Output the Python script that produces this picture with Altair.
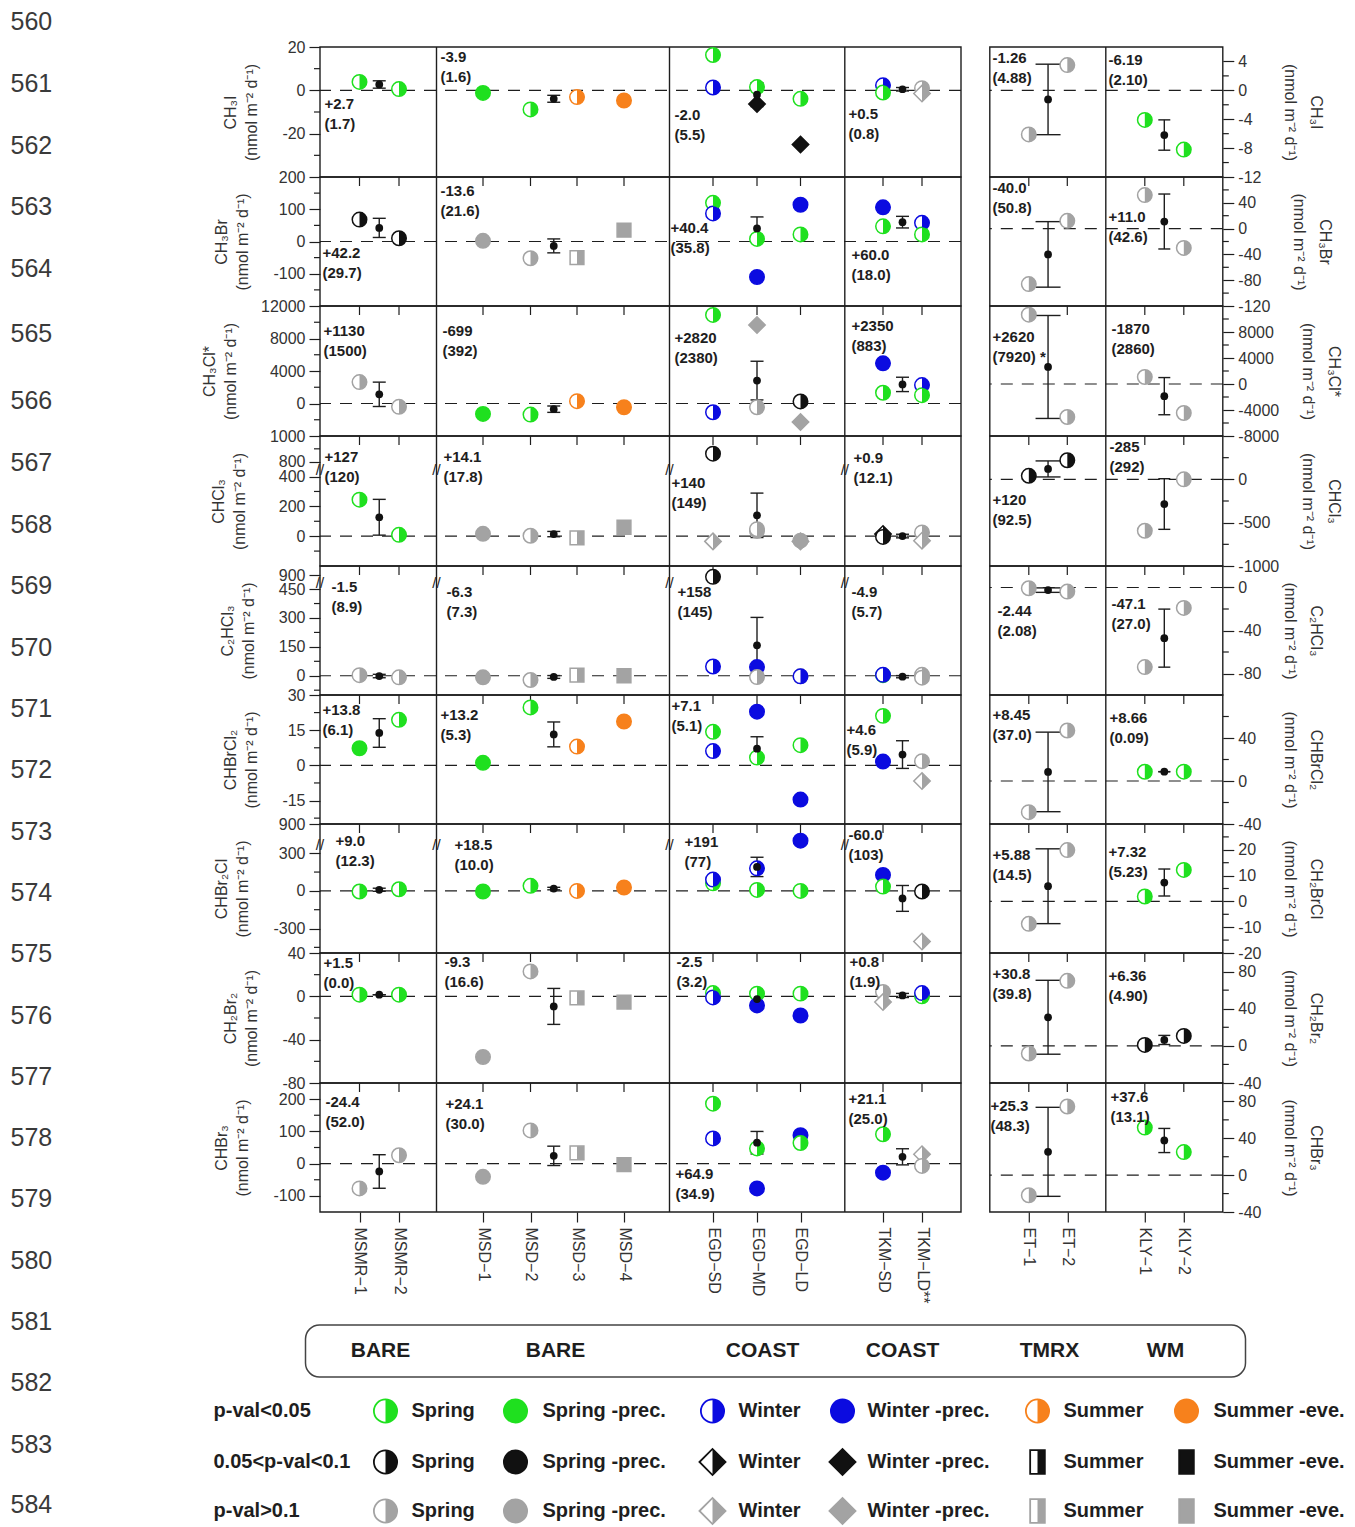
import json
import altair as alt
import pandas as pd

FONT = "Liberation Sans"
INK = "#1e1e1e"
LABC = "#333333"
UNIT = "(nmol m⁻² d⁻¹)"

LEFT_NAMES = ["CH₃I", "CH₃Br", "CH₃Cl*", "CHCl₃", "C₂HCl₃", "CHBrCl₂", "CHBr₂Cl", "CH₂Br₂", "CHBr₃"]
RIGHT_NAMES = ["CH₃I", "CH₃Br", "CH₃Cl*", "CHCl₃", "C₂HCl₃", "CHBrCl₂", "CH₂BrCl", "CH₂Br₂", "CHBr₃"]

# ---------------- sites / panels ----------------
LEFT_SITES = ["MSMR-1", "MSMR-2", "MSD-1", "MSD-2", "MSD-3", "MSD-4", "EGD-SD", "EGD-MD", "EGD-LD", "TKM-SD", "TKM-LD**"]
LEFT_POS = [39.5, 79.0, 163.0, 210.5, 257.0, 304.0, 393.0, 437.0, 480.5, 563.0, 602.0]
RIGHT_SITES = ["ET-1", "ET-2", "KLY-1", "KLY-2"]
RIGHT_POS = [39.0, 77.5, 155.0, 194.0]
LEFT_PANELS = [["MSMR-1", "MSMR-2"], ["MSD-1", "MSD-2", "MSD-3", "MSD-4"], ["EGD-SD", "EGD-MD", "EGD-LD"], ["TKM-SD", "TKM-LD**"]]
LEFT_EDGES = [0.0, 116.5, 349.5, 524.8]
RIGHT_PANELS = [["ET-1", "ET-2"], ["KLY-1", "KLY-2"]]
RIGHT_EDGES = [0.0, 116.0]
CAP_HALF = [6.5, 6.5, 6.5, 6.5, 12.5, 6.0]
LEFT_W, RIGHT_W = 641, 233
LEFT_X0, RIGHT_X0 = 319.5, 989.3
ROW_H = [130, 129, 130, 130, 129, 129, 129, 130, 129]
TOP0 = 47

LEFT_DOM = [(-40, 20), (-200, 200), (-4000, 12000), (-200, 672), (-100, 570), (-25, 30), (-495, 533), (-80, 40), (-150, 250)]
RIGHT_DOM = [(-12, 6), (-120, 80), (-8000, 12000), (-1000, 500), (-100, 20), (-40, 80), (-20, 30), (-40, 100), (-40, 100)]
LEFT_MAJOR = [[20, 0, -20], [200, 100, 0, -100], [12000, 8000, 4000, 0], [1000, 800, 400, 200, 0],
              [900, 450, 300, 150, 0], [30, 15, 0, -15], [900, 300, 0, -300], [40, 0, -40, -80], [200, 100, 0, -100]]
LEFT_MINOR = [[10, -10, -30], [150, 50, -50, -150], [10000, 6000, 2000, -2000], [900, 300, 100, -100],
              [375, 225, 75, -75], [22.5, 7.5, -7.5, -22.5], [150, -150, -450], [20, -20, -60], [150, 50, -50]]
RIGHT_MAJOR = [[4, 0, -4, -8, -12], [40, 0, -40, -80, -120], [8000, 4000, 0, -4000, -8000], [0, -500, -1000],
               [0, -40, -80], [40, 0, -40], [20, 10, 0, -10, -20], [80, 40, 0, -40], [80, 40, 0, -40]]
RIGHT_MINOR = [[2, -2, -6, -10], [60, 20, -20, -60, -100], [10000, 6000, 2000, -2000, -6000], [250, -250, -750],
               [-20, -60], [60, 20, -20], [25, 15, 5, -5, -15], [60, 20, -20], [60, 20, -20]]
# broken axes (left group): values above "cut" are drawn on a compressed upper segment
BREAKS = {3: dict(cut=600, v0=800, d0=500, k=0.86, mark=446),
          4: dict(cut=600, v0=900, d0=523, k=0.47, mark=481),
          6: dict(cut=600, v0=800, d0=400, k=1.33, mark=366)}

# ---------------- data: (site, kind, significance, value) ----------------
# kind: S=Spring W=Winter U=Summer ; h = plain season (half symbol), f = -prec./-eve. (filled)
# significance: 1 p<0.05, 2 0.05<p<0.1, 3 p>0.1
CH3I = [("MSMR-1", "Sh", 1, 3.9), ("MSMR-2", "Sh", 1, 0.6),
        ("MSD-1", "Sf", 1, -1.2), ("MSD-2", "Sh", 1, -8.8), ("MSD-3", "Uh", 1, -3.1), ("MSD-4", "Uf", 1, -4.7),
        ("EGD-SD", "Sh", 1, 16.3), ("EGD-SD", "Wh", 1, 1.3), ("EGD-MD", "Sh", 1, 1.5), ("EGD-MD", "Wf", 2, -6.3),
        ("EGD-LD", "Sh", 1, -3.9), ("EGD-LD", "Wf", 2, -25.0),
        ("TKM-SD", "Wh", 1, 2.3), ("TKM-SD", "Sh", 1, -1.0), ("TKM-LD**", "Sh", 3, 1.0), ("TKM-LD**", "Wh", 3, -1.5),
        ("ET-1", "Sh", 3, -6.1), ("ET-2", "Sh", 3, 3.5), ("KLY-1", "Sh", 1, -4.1), ("KLY-2", "Sh", 1, -8.2)]
CH3BR = [("MSMR-1", "Sh", 2, 68), ("MSMR-2", "Sh", 2, 10),
         ("MSD-1", "Sf", 3, 2), ("MSD-2", "Sh", 3, -52), ("MSD-3", "Uh", 3, -50), ("MSD-4", "Uf", 3, 35),
         ("EGD-SD", "Sh", 1, 120), ("EGD-SD", "Wh", 1, 87), ("EGD-MD", "Sh", 1, 8), ("EGD-MD", "Wf", 1, -110),
         ("EGD-LD", "Wf", 1, 114), ("EGD-LD", "Sh", 1, 22),
         ("TKM-SD", "Wf", 1, 106), ("TKM-SD", "Sh", 1, 47), ("TKM-LD**", "Wh", 1, 58), ("TKM-LD**", "Sh", 1, 22),
         ("ET-1", "Sh", 3, -86), ("ET-2", "Sh", 3, 12), ("KLY-1", "Sh", 3, 52), ("KLY-2", "Sh", 3, -30)]
CH3CL = [("MSMR-1", "Sh", 3, 2640), ("MSMR-2", "Sh", 3, -410),
         ("MSD-1", "Sf", 1, -1280), ("MSD-2", "Sh", 1, -1360), ("MSD-3", "Uh", 1, 290), ("MSD-4", "Uf", 1, -460),
         ("EGD-SD", "Sh", 1, 10900), ("EGD-SD", "Wh", 1, -1080), ("EGD-MD", "Wf", 3, 9660), ("EGD-MD", "Sh", 3, -460),
         ("EGD-LD", "Sh", 2, 250), ("EGD-LD", "Wf", 3, -2270),
         ("TKM-SD", "Wf", 1, 4950), ("TKM-SD", "Sh", 1, 1320), ("TKM-LD**", "Wh", 1, 2270), ("TKM-LD**", "Sh", 1, 1030),
         ("ET-1", "Sh", 3, 10660), ("ET-2", "Sh", 3, -5080), ("KLY-1", "Sh", 3, 1080), ("KLY-2", "Sh", 3, -4460)]
CHCL3 = [("MSMR-1", "Sh", 1, 245), ("MSMR-2", "Sh", 1, 9),
         ("MSD-1", "Sf", 3, 16), ("MSD-2", "Sh", 3, 3), ("MSD-3", "Uh", 3, -11), ("MSD-4", "Uf", 3, 60),
         ("EGD-SD", "Sh", 2, 862), ("EGD-SD", "Wh", 3, -35), ("EGD-MD", "Sf", 3, 35), ("EGD-MD", "Sh", 3, 47),
         ("EGD-LD", "Wf", 3, -35), ("EGD-LD", "Sf", 3, -30),
         ("TKM-SD", "Wh", 2, 15), ("TKM-SD", "Sh", 2, -5), ("TKM-LD**", "Sh", 3, 25), ("TKM-LD**", "Wh", 3, -30),
         ("ET-1", "Sh", 2, 41), ("ET-2", "Sh", 2, 220), ("KLY-1", "Sh", 3, -593), ("KLY-2", "Sh", 3, 0)]
C2HCL3 = [("MSMR-1", "Sh", 3, 3), ("MSMR-2", "Sh", 3, -8),
          ("MSD-1", "Sf", 3, -8), ("MSD-2", "Sh", 3, -22), ("MSD-3", "Uh", 3, 3), ("MSD-4", "Uf", 3, 0),
          ("EGD-SD", "Sh", 2, 880), ("EGD-SD", "Wh", 1, 48), ("EGD-MD", "Wf", 1, 45), ("EGD-MD", "Sh", 3, -7),
          ("EGD-LD", "Sf", 3, -3), ("EGD-LD", "Wh", 1, -3),
          ("TKM-SD", "Sf", 1, 3), ("TKM-SD", "Wh", 1, 5), ("TKM-LD**", "Sh", 3, 5), ("TKM-LD**", "Sh", 3, -10),
          ("ET-1", "Sh", 3, -0.7), ("ET-2", "Sh", 3, -3.8), ("KLY-1", "Sh", 3, -74), ("KLY-2", "Sh", 3, -19)]
CHBRCL2 = [("MSMR-1", "Sf", 1, 7.3), ("MSMR-2", "Sh", 1, 19.4),
           ("MSD-1", "Sf", 1, 1.1), ("MSD-2", "Sh", 1, 24.7), ("MSD-3", "Uh", 1, 8.0), ("MSD-4", "Uf", 1, 18.7),
           ("EGD-SD", "Sh", 1, 14.3), ("EGD-SD", "Wh", 1, 6.1), ("EGD-MD", "Wf", 1, 22.9), ("EGD-MD", "Sh", 1, 3.3),
           ("EGD-LD", "Sh", 1, 8.6), ("EGD-LD", "Wf", 1, -14.6),
           ("TKM-SD", "Sh", 1, 21.1), ("TKM-SD", "Wf", 1, 1.6), ("TKM-LD**", "Sh", 3, 1.8), ("TKM-LD**", "Wh", 3, -6.7),
           ("ET-1", "Sh", 3, -29), ("ET-2", "Sh", 3, 47), ("KLY-1", "Sh", 1, 8.6), ("KLY-2", "Sh", 1, 8.7)]
CHBR2CL = [("MSMR-1", "Sh", 1, -5), ("MSMR-2", "Sh", 1, 13),
           ("MSD-1", "Sf", 1, -5), ("MSD-2", "Sh", 1, 40), ("MSD-3", "Uh", 1, 0), ("MSD-4", "Uf", 1, 27),
           ("EGD-SD", "Sh", 1, 60), ("EGD-SD", "Wh", 1, 90), ("EGD-MD", "Wh", 1, 180), ("EGD-MD", "Sh", 1, 8),
           ("EGD-LD", "Wf", 1, 800), ("EGD-LD", "Sh", 1, 0),
           ("TKM-SD", "Wf", 1, 127), ("TKM-SD", "Sh", 1, 34), ("TKM-LD**", "Sh", 2, -5), ("TKM-LD**", "Wh", 3, -403),
           ("ET-1", "Sh", 3, -8.7), ("ET-2", "Sh", 3, 19.9), ("KLY-1", "Sh", 1, 1.9), ("KLY-2", "Sh", 1, 12.2)]
CH2BR2 = [("MSMR-1", "Sh", 1, 1.5), ("MSMR-2", "Sh", 1, 1.5),
          ("MSD-1", "Sf", 3, -56), ("MSD-2", "Sh", 3, 23), ("MSD-3", "Uh", 3, -1.5), ("MSD-4", "Uf", 3, -5.3),
          ("EGD-SD", "Sh", 1, 3), ("EGD-SD", "Wh", 1, -1), ("EGD-MD", "Sh", 1, 2.5), ("EGD-MD", "Wf", 1, -8.4),
          ("EGD-LD", "Sh", 1, 2.5), ("EGD-LD", "Wf", 1, -17.7),
          ("TKM-SD", "Sh", 3, 4), ("TKM-SD", "Wh", 3, -5.3), ("TKM-LD**", "Sh", 1, 0), ("TKM-LD**", "Wh", 1, 3),
          ("ET-1", "Sh", 3, -8.2), ("ET-2", "Sh", 3, 70), ("KLY-1", "Sh", 2, 1), ("KLY-2", "Sh", 2, 10.7)]
CHBR3 = [("MSMR-1", "Sh", 3, -77), ("MSMR-2", "Sh", 3, 26),
         ("MSD-1", "Sf", 3, -41), ("MSD-2", "Sh", 3, 103), ("MSD-3", "Uh", 3, 33), ("MSD-4", "Uf", 3, -3),
         ("EGD-SD", "Sh", 1, 186), ("EGD-SD", "Wh", 1, 78), ("EGD-MD", "Sh", 1, 47), ("EGD-MD", "Wf", 1, -77),
         ("EGD-LD", "Wf", 1, 88), ("EGD-LD", "Sh", 1, 64),
         ("TKM-SD", "Sh", 1, 91), ("TKM-SD", "Wf", 1, -28), ("TKM-LD**", "Wh", 3, 29), ("TKM-LD**", "Sh", 3, -7),
         ("ET-1", "Sh", 3, -21.8), ("ET-2", "Sh", 3, 74.5), ("KLY-1", "Sh", 1, 51.6), ("KLY-2", "Sh", 1, 25)]
POINTS = [CH3I, CH3BR, CH3CL, CHCL3, C2HCL3, CHBRCL2, CHBR2CL, CH2BR2, CHBR3]

# mean flux (error) per panel: MSMR, MSD, EGD, TKM, ET, KLY
MEANS = [
    [("+2.7", "(1.7)"), ("-3.9", "(1.6)"), ("-2.0", "(5.5)"), ("+0.5", "(0.8)"), ("-1.26", "(4.88)"), ("-6.19", "(2.10)")],
    [("+42.2", "(29.7)"), ("-13.6", "(21.6)"), ("+40.4", "(35.8)"), ("+60.0", "(18.0)"), ("-40.0", "(50.8)"), ("+11.0", "(42.6)")],
    [("+1130", "(1500)"), ("-699", "(392)"), ("+2820", "(2380)"), ("+2350", "(883)"), ("+2620", "(7920) *"), ("-1870", "(2860)")],
    [("+127", "(120)"), ("+14.1", "(17.8)"), ("+140", "(149)"), ("+0.9", "(12.1)"), ("+120", "(92.5)"), ("-285", "(292)")],
    [("-1.5", "(8.9)"), ("-6.3", "(7.3)"), ("+158", "(145)"), ("-4.9", "(5.7)"), ("-2.44", "(2.08)"), ("-47.1", "(27.0)")],
    [("+13.8", "(6.1)"), ("+13.2", "(5.3)"), ("+7.1", "(5.1)"), ("+4.6", "(5.9)"), ("+8.45", "(37.0)"), ("+8.66", "(0.09)")],
    [("+9.0", "(12.3)"), ("+18.5", "(10.0)"), ("+191", "(77)"), ("-60.0", "(103)"), ("+5.88", "(14.5)"), ("+7.32", "(5.23)")],
    [("+1.5", "(0.0)"), ("-9.3", "(16.6)"), ("-2.5", "(3.2)"), ("+0.8", "(1.9)"), ("+30.8", "(39.8)"), ("+6.36", "(4.90)")],
    [("-24.4", "(52.0)"), ("+24.1", "(30.0)"), ("+64.9", "(34.9)"), ("+21.1", "(25.0)"), ("+25.3", "(48.3)"), ("+37.6", "(13.1)")],
]
# annotation anchor (left x, first line y) in page pixels
ANNOT_POS = [
    [(324, 104), (440, 57), (674, 115), (848, 114), (992, 58), (1108, 60)],
    [(322, 253), (440, 191), (670, 228), (851, 255), (992, 188), (1108, 217)],
    [(323, 331), (442, 331), (674, 338), (851, 326), (992, 337), (1111, 329)],
    [(324, 457), (443, 457), (671, 483), (853, 458), (992, 500), (1109, 447)],
    [(331, 587), (446, 592), (677, 592), (851, 592), (997, 611), (1111, 604)],
    [(322, 710), (440, 715), (671, 706), (846, 730), (992, 715), (1109, 718)],
    [(335, 841), (454, 845), (684, 842), (848, 835), (992, 855), (1108, 852)],
    [(323, 963), (444, 962), (676, 962), (849, 962), (992, 974), (1108, 976)],
    [(325, 1102), (445, 1104), (675, 1174), (848, 1099), (990, 1106), (1110, 1097)],
]

# ---------------- legend / page furniture ----------------
LINE_NUMS = list(range(560, 585))
LINE_Y = [22, 84, 146, 207, 269, 334, 401, 463, 525, 586, 648, 709, 770, 832, 893, 954, 1016, 1077, 1138, 1199,
          1261, 1322, 1383, 1445, 1505]
LNUM_X = 10
GROUPS = ["BARE", "BARE", "COAST", "COAST", "TMRX", "WM"]
GROUP_X = [380, 555, 762, 902, 1049, 1165]
BOX = (305, 1325, 1245, 1377)
LEG_ROWS = ["p-val<0.05", "0.05<p-val<0.1", "p-val>0.1"]
LEG_ROW_Y = [1411, 1462, 1511]
LEG_ITEMS = ["Spring", "Spring -prec.", "Winter", "Winter -prec.", "Summer", "Summer -eve."]
LEG_KINDS = ["Sh", "Sf", "Wh", "Wf", "Uh", "Uf"]
LEG_SYM_X = [385, 515, 712, 842, 1037, 1186]
LEG_TXT_X = [411, 542, 738, 867, 1063, 1213]
FY0, FH = 1212, 310

SEASON_COL = {"S": "#1fe01f", "W": "#0b0be0", "U": "#f7811c"}
BLACK = "#111111"
GRAY = "#a3a3a3"
PATHS = {
    "circle": ("circle", "M0,-1A1,1,0,0,1,0,1Z"),
    "diamond": ("diamond", "M0,-1L1,0L0,1Z"),
    "square": ("square", "M0,-1L1,-1L1,1L0,1Z"),
    "rect": ("M-0.62,-1L0.62,-1L0.62,1L-0.62,1Z", "M0,-1L0.62,-1L0.62,1L0,1Z"),
}
SIZES = {"circle": 210, "diamond": 270, "square": 190}
LEG_SIZES = {"circle": 540, "diamond": 680, "rect": 560}


def marker(kind, sig, legend=False):
    season, full = kind[0], kind[1] == "f"
    col = SEASON_COL[season] if sig == 1 else (BLACK if sig == 2 else GRAY)
    if season == "S" or sig == 1:
        key = "circle"
    elif season == "W":
        key = "diamond"
    else:
        key = "rect" if legend else "square"
    sizes = LEG_SIZES if legend else SIZES
    shp, hp = PATHS[key]
    return dict(col=col, fc=col if full else "white", shp=shp, hp=hp, sz=sizes[key], half=not full)


def point_layers(df, X, Y, sw=1.5):
    a = alt.Chart(df).mark_point(filled=True, opacity=1, strokeWidth=sw).encode(
        x=X("x"), y=Y("y"), shape=alt.Shape("shp:N", scale=None),
        fill=alt.Fill("fc:N", scale=None), stroke=alt.Stroke("col:N", scale=None),
        size=alt.Size("sz:Q", scale=None))
    hd = df[df["half"]]
    b = alt.Chart(hd).mark_point(filled=True, opacity=1, strokeWidth=0).encode(
        x=X("x"), y=Y("y"), shape=alt.Shape("hp:N", scale=None),
        color=alt.Color("col:N", scale=None), size=alt.Size("sz:Q", scale=None))
    return [a, b]


ROW_TOPS = []
_t = TOP0
for _h in ROW_H:
    ROW_TOPS.append(_t)
    _t += _h


def panel(r, side):
    L = side == "L"
    W = LEFT_W if L else RIGHT_W
    H = ROW_H[r]
    top = ROW_TOPS[r]
    x0 = LEFT_X0 if L else RIGHT_X0
    lo_d, hi_d = LEFT_DOM[r] if L else RIGHT_DOM[r]
    brk = BREAKS.get(r) if L else None

    def dv(v):
        if brk and v > brk["cut"]:
            return brk["d0"] + (v - brk["v0"]) * brk["k"]
        return float(v)

    major = LEFT_MAJOR[r] if L else RIGHT_MAJOR[r]
    minor = LEFT_MINOR[r] if L else RIGHT_MINOR[r]
    mvals = [dv(v) for v in major]
    labels = [str(v) for v in major]
    expr = json.dumps(labels) + "[indexof(" + json.dumps(mvals) + ", datum.value)]"
    name = LEFT_NAMES[r] if L else RIGHT_NAMES[r]
    yaxis = alt.Axis(orient="left" if L else "right", values=mvals, labelExpr=expr,
                     title=[name, UNIT], domain=False, grid=False, ticks=True, tickSize=11,
                     tickColor=INK, tickWidth=1.2, labelFontSize=16, labelColor=LABC, labelPadding=4,
                     labelOverlap=False, labelFlush=False, labelFont=FONT, titleFont=FONT,
                     titleFontSize=16, titleFontWeight="normal", titleColor=LABC,
                     titlePadding=22 if L else 21, titleLineHeight=21 if L else 26,
                     titleAngle=270 if L else 90, titleBaseline="bottom")
    ysc = alt.Scale(domain=[lo_d, hi_d], nice=False, zero=False)

    def Y(f):
        return alt.Y(f, type="quantitative", scale=ysc, axis=yaxis)

    sites = LEFT_SITES if L else RIGHT_SITES
    pos = LEFT_POS if L else RIGHT_POS
    posmap = dict(zip(sites, pos))
    xsc = alt.Scale(domain=[0, W], nice=False, zero=False)
    if r == len(ROW_H) - 1:
        names = [s.replace("-", "−") for s in sites]
        xexpr = json.dumps(names, ensure_ascii=False) + "[indexof(" + json.dumps(pos) + ", datum.value)]"
        xaxis = alt.Axis(orient="bottom", values=pos, labelExpr=xexpr, labelAngle=90, domain=False,
                         grid=False, tickSize=10, tickColor=INK, tickWidth=1.2, labelFontSize=16,
                         labelColor=LABC, labelPadding=5, labelFont=FONT, labelOverlap=False,
                         labelFlush=False)
    else:
        xaxis = None

    def X(f):
        return alt.X(f, type="quantitative", scale=xsc, axis=xaxis, title=None)

    edges = LEFT_EDGES if L else RIGHT_EDGES
    panels = LEFT_PANELS if L else RIGHT_PANELS
    p0 = 0 if L else 4

    prow = []
    for site, kind, sig, v in POINTS[r]:
        if site in posmap:
            d = marker(kind, sig)
            d.update(x=posmap[site], y=dv(v))
            prow.append(d)
    pdf = pd.DataFrame(prow)

    mrows, caps, texts = [], [], []
    for j, sl in enumerate(panels):
        p = p0 + j
        ps = [posmap[s] for s in sl]
        n = len(ps)
        mx = ps[n // 2] if n % 2 else (ps[n // 2 - 1] + ps[n // 2]) / 2
        mt, st = MEANS[r][p]
        m = float(mt)
        e = float(st.split(")")[0].strip("("))
        mrows.append(dict(x=mx, y=m, lo=m - e, hi=m + e))
        ch = CAP_HALF[p]
        caps += [dict(x1=mx - ch, x2=mx + ch, y=m - e), dict(x1=mx - ch, x2=mx + ch, y=m + e)]
        px, py = ANNOT_POS[r][p]
        for k, t in enumerate((mt, st)):
            yy = hi_d - (py + 20 * k - top) / H * (hi_d - lo_d)
            texts.append(dict(x=px - x0, y=yy, t=t))
    mdf = pd.DataFrame(mrows)

    layers = []
    layers.append(alt.Chart(pd.DataFrame({"y": [0.0]})).mark_rule(
        color=INK, strokeWidth=1.2, strokeDash=[12, 9]).encode(y=Y("y")))
    layers.append(alt.Chart(pd.DataFrame({"x": edges[1:]})).mark_rule(
        color=INK, strokeWidth=1.4).encode(x=X("x")))
    layers.append(alt.Chart(pd.DataFrame({"a": [0]})).mark_rect(
        fillOpacity=0, stroke=INK, strokeWidth=1.4).encode(
        x=alt.value(0), x2=alt.value(W), y=alt.value(0), y2=alt.value(H)))
    if r > 0:
        layers.append(alt.Chart(pd.DataFrame({"x": pos})).mark_rule(
            color=INK, strokeWidth=1.2).encode(x=X("x"), y=alt.value(0), y2=alt.value(9)))
    mind = pd.DataFrame({"y": [dv(v) for v in minor]})
    if L:
        layers.append(alt.Chart(mind).mark_rule(color=INK, strokeWidth=1.2).encode(
            y=Y("y"), x=alt.value(-6), x2=alt.value(0)))
    else:
        layers.append(alt.Chart(mind).mark_rule(color=INK, strokeWidth=1.2).encode(
            y=Y("y"), x=alt.value(W), x2=alt.value(W + 6)))
    if brk:
        bdf = pd.DataFrame({"x": edges, "y": [brk["mark"]] * len(edges), "t": ["//"] * len(edges)})
        layers.append(alt.Chart(bdf).mark_text(fontSize=15, color=INK, font=FONT).encode(
            x=X("x"), y=Y("y"), text="t:N"))
    layers.append(alt.Chart(mdf).mark_rule(color=INK, strokeWidth=1.4).encode(
        x=X("x"), y=Y("lo"), y2=alt.Y2("hi")))
    layers.append(alt.Chart(pd.DataFrame(caps)).mark_rule(color=INK, strokeWidth=1.4).encode(
        x=X("x1"), x2=alt.X2("x2"), y=Y("y")))
    layers += point_layers(pdf, X, Y)
    layers.append(alt.Chart(mdf).mark_point(filled=True, opacity=1, size=60, color=BLACK, shape="circle").encode(
        x=X("x"), y=Y("y")))
    layers.append(alt.Chart(pd.DataFrame(texts)).mark_text(
        align="left", baseline="middle", fontSize=15, fontWeight="bold", color=INK, font=FONT).encode(
        x=X("x"), y=Y("y"), text="t:N"))
    return alt.layer(*layers).properties(width=W, height=H)


def furniture():
    fx = alt.Scale(domain=[LEFT_X0, LEFT_X0 + LEFT_W], nice=False, zero=False)
    fy = alt.Scale(domain=[FY0, FY0 + FH], nice=False, zero=False, reverse=True)

    def FX(f):
        return alt.X(f, type="quantitative", scale=fx, axis=None)

    def FYc(f):
        return alt.Y(f, type="quantitative", scale=fy, axis=None)

    ln = pd.DataFrame({"x": [LNUM_X] * len(LINE_NUMS), "y": LINE_Y, "t": [str(n) for n in LINE_NUMS]})
    grp = pd.DataFrame({"x": GROUP_X, "y": [(BOX[1] + BOX[3]) / 2] * len(GROUPS), "t": GROUPS})
    box = pd.DataFrame({"x": [BOX[0]], "x2": [BOX[2]], "y": [BOX[1]], "y2": [BOX[3]]})
    rl = pd.DataFrame({"x": [213] * 3, "y": LEG_ROW_Y, "t": LEG_ROWS})
    lt, ls = [], []
    for i, yy in enumerate(LEG_ROW_Y):
        for j, (item, kind) in enumerate(zip(LEG_ITEMS, LEG_KINDS)):
            lt.append(dict(x=LEG_TXT_X[j], y=yy, t=item))
            d = marker(kind, i + 1, legend=True)
            d.update(x=LEG_SYM_X[j], y=yy)
            ls.append(d)
    layers = [
        alt.Chart(ln).mark_text(align="left", baseline="middle", fontSize=25, color="#3a3a3a", font=FONT).encode(
            x=FX("x"), y=FYc("y"), text="t:N"),
        alt.Chart(box).mark_rect(fillOpacity=0, stroke="#444444", strokeWidth=1.5, cornerRadius=14).encode(
            x=FX("x"), x2=alt.X2("x2"), y=FYc("y"), y2=alt.Y2("y2")),
        alt.Chart(grp).mark_text(align="center", baseline="middle", fontSize=21, fontWeight="bold",
                                 color=INK, font=FONT).encode(x=FX("x"), y=FYc("y"), text="t:N"),
        alt.Chart(rl).mark_text(align="left", baseline="middle", fontSize=20, fontWeight="bold",
                                color=INK, font=FONT).encode(x=FX("x"), y=FYc("y"), text="t:N"),
        alt.Chart(pd.DataFrame(lt)).mark_text(align="left", baseline="middle", fontSize=20, fontWeight="bold",
                                              color=INK, font=FONT).encode(x=FX("x"), y=FYc("y"), text="t:N"),
    ]
    layers += point_layers(pd.DataFrame(ls), FX, FYc, sw=1.8)
    return alt.layer(*layers).properties(width=LEFT_W, height=FH)


cells = []
for r in range(len(ROW_H)):
    cells += [panel(r, "L"), panel(r, "R")]
cells.append(furniture())

chart = alt.concat(*cells, columns=2, spacing={"row": 0, "column": RIGHT_X0 - LEFT_X0 - LEFT_W},
                   bounds="flush").properties(
    padding={"left": 2, "top": 2, "right": 0, "bottom": 0}
).configure(font=FONT).configure_view(stroke="transparent", strokeWidth=0)

chart.save("out.html", embed_options={"renderer": "svg", "actions": False})
